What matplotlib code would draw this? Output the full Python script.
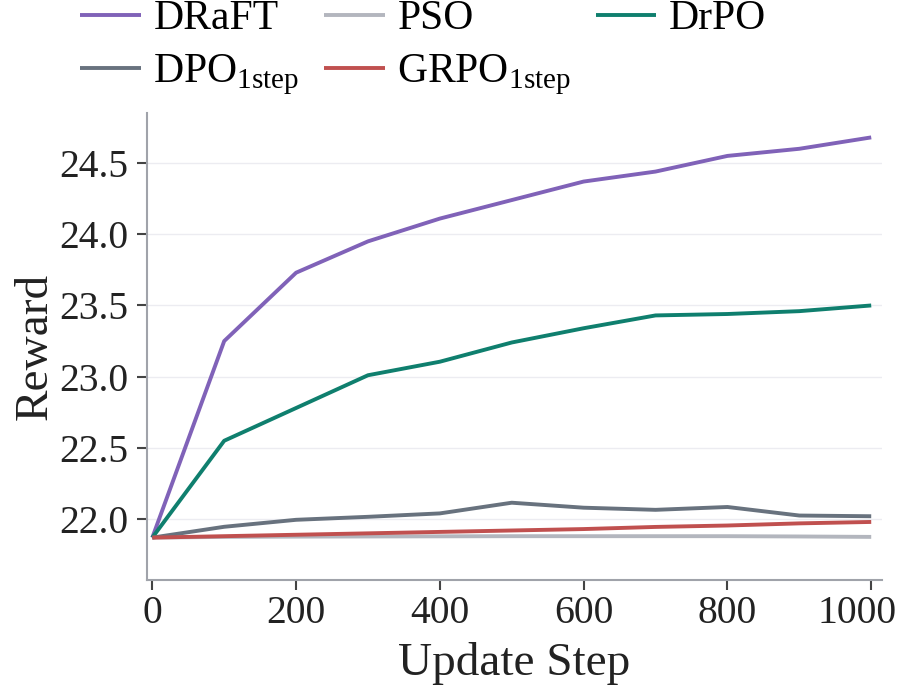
import numpy as np
import matplotlib
matplotlib.use("Agg")
import matplotlib.pyplot as plt
import matplotlib.transforms as mtransforms

# =========================
# DATA
# =========================
steps = [0, 100, 200, 300, 400, 500, 600, 700, 800, 900, 1000]

draft = [21.87, 23.25, 23.73, 23.95, 24.11, 24.24, 24.37, 24.44, 24.55, 24.60, 24.68]
pso = [21.87, 21.875, 21.877, 21.878, 21.879, 21.88, 21.88, 21.88, 21.88, 21.878, 21.875]
drpo = [21.87, 22.55, 22.78, 23.01, 23.105, 23.24, 23.34, 23.43, 23.44, 23.46, 23.50]
dpo = [21.87, 21.946, 21.995, 22.016, 22.04, 22.115, 22.08, 22.065, 22.085, 22.025, 22.02]
grpo = [21.87, 21.88, 21.89, 21.90, 21.91, 21.92, 21.93, 21.945, 21.955, 21.97, 21.98]

labels = ["DRaFT", "PSO", "DrPO", r"DPO$_{\mathrm{1step}}$", r"GRPO$_{\mathrm{1step}}$"]
series = [draft, pso, drpo, dpo, grpo]
colors = ["#8062B8", "#B3B6BE", "#0F7F6E", "#68727E", "#C0504F"]

y_ticks = [22.0, 22.5, 23.0, 23.5, 24.0, 24.5]
x_ticks = [0, 200, 400, 600, 800, 1000]

# =========================
# STYLE
# =========================
plt.rcParams["font.family"] = ["Liberation Serif", "DejaVu Serif"]
plt.rcParams["mathtext.fontset"] = "custom"
plt.rcParams["mathtext.rm"] = "Liberation Serif"

spine_col = "#A0A3AA"

fig = plt.figure(figsize=(9, 6.96), dpi=100)
ax = fig.add_axes([0.163, 0.167, 0.817, 0.671])

lines = []
for s, lab, c in zip(series, labels, colors):
    ln, = ax.plot(steps, s, color=c, lw=2.8, label=lab, solid_capstyle="butt")
    lines.append(ln)

ax.set_xlim(-7.8, 1015)
ax.set_ylim(21.574, 24.853)
ax.set_xticks(x_ticks)
ax.set_yticks(y_ticks)
ax.set_yticklabels([f"{v:.1f}" for v in y_ticks])

ax.yaxis.grid(True, color="#ECECF1", lw=1.0)
ax.set_axisbelow(True)

for side in ["top", "right"]:
    ax.spines[side].set_visible(False)
for side in ["left", "bottom"]:
    ax.spines[side].set_color(spine_col)
    ax.spines[side].set_linewidth(1.5)

ax.tick_params(axis="both", direction="out", length=7, width=1.5,
               color="#444444", labelsize=28.5, labelcolor="#222222")
ax.tick_params(axis="y", pad=6)
ax.tick_params(axis="x", pad=4)

# last x label sits a bit left so it stays inside the picture
last = ax.get_xticklabels()[-1]
last.set_transform(last.get_transform() +
                   mtransforms.ScaledTranslation(-14 / 100, 0, fig.dpi_scale_trans))

ax.set_xlabel("Update Step", fontsize=34, color="#222222", labelpad=7)
ax.set_ylabel("Reward", fontsize=34, color="#222222", labelpad=2)

# legend filled column-wise -> reorder so rows read DRaFT, PSO, DrPO / DPO, GRPO
order = [0, 3, 1, 4, 2]
fig.legend(handles=[lines[i] for i in order], loc="upper left",
           bbox_to_anchor=(0.057, 1.042), ncol=3, frameon=False, fontsize=30,
           handlelength=1.45, handletextpad=0.3, columnspacing=0.6,
           labelspacing=0.34, borderpad=0.2)

fig.savefig("out.png", dpi=100)
